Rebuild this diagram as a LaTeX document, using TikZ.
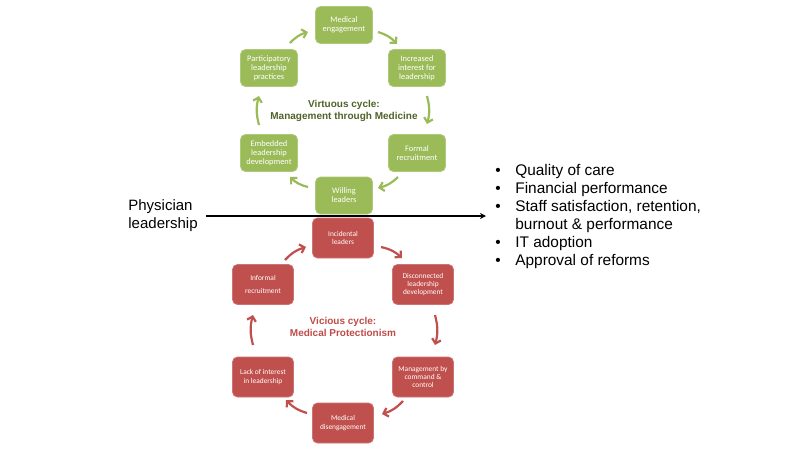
\documentclass[tikz,border=0pt]{standalone}
\usepackage{fontspec}
\setmainfont{Liberation Sans}
\newfontfamily\carlitofont{Carlito}
\usetikzlibrary{arrows.meta}
\definecolor{gfill}{HTML}{9BBB59}
\definecolor{rfill}{HTML}{C0504D}
\definecolor{gtitle}{HTML}{4F6228}
\definecolor{rtitle}{HTML}{BE4B48}
\tikzset{
  gbox/.style={rectangle, rounded corners=2.5pt, fill=gfill, draw=gfill!80!white, line width=0.4pt,
    minimum width=28.5pt, minimum height=18.5pt, inner sep=0.5pt, text=white, align=center,
    font=\carlitofont\fontsize{4.2}{4.5}\selectfont},
  rbox/.style={rectangle, rounded corners=2.5pt, fill=rfill, draw=rfill!80!white, line width=0.4pt,
    minimum width=30.5pt, minimum height=20pt, inner sep=0.5pt, text=white, align=center,
    font=\carlitofont\fontsize{3.7}{4.2}\selectfont},
  garr/.style={draw=gfill, line width=1.1pt, -{Straight Barb[length=2.2pt,width=4.5pt]}, bend left=15},
  rarr/.style={draw=rfill, line width=1.1pt, -{Straight Barb[length=2.2pt,width=4.5pt]}, bend left=15},
  title/.style={font=\bfseries\fontsize{5}{6}\selectfont, align=center},
}
\begin{document}
\begin{tikzpicture}[x=0.5pt, y=-0.5pt]
\useasboundingbox (0,0) rectangle (800,450);
% virtuous cycle
\node[gbox] (GM) at (344,25) {Medical\\engagement};
\node[gbox] (GI) at (417,68) {Increased\\interest for\\leadership};
\node[gbox] (GP) at (269,68) {Participatory\\leadership\\practices};
\node[gbox] (GE) at (269,153) {Embedded\\leadership\\development};
\node[gbox] (GF) at (417,153) {Formal\\recruitment};
\node[gbox] (GW) at (344,195.5) {Willing\\leaders};
\node[title, text=gtitle] (VT) at (344,111) {Virtuous cycle:\\Management through Medicine};
\draw[garr] ([shift={(21,-25)}]GP.center) to ([shift={(-36,7)}]GM.center);
\draw[garr] ([shift={(34,7)}]GM.center) to ([shift={(-20,-24)}]GI.center);
\draw[garr] ([shift={(10,28)}]GI.center) to ([shift={(10,-29)}]GF.center);
\draw[garr] ([shift={(-19,24)}]GF.center) to ([shift={(34,-7.5)}]GW.center);
\draw[garr] ([shift={(-36,-8.5)}]GW.center) to ([shift={(21,24)}]GE.center);
\draw[garr] ([shift={(-10,-28)}]GE.center) to ([shift={(-10,28)}]GP.center);
% vicious cycle
\node[rbox] (RI) at (343,238) {Incidental\\leaders};
\node[rbox] (RD) at (423,284.5) {Disconnected\\leadership\\development};
\node[rbox] (RF) at (263,284.5) {Informal\\[2pt]recruitment};
\node[rbox] (RL) at (263,377) {Lack of interest\\in leadership};
\node[rbox] (RM) at (423,377) {Management by\\command \&\\control};
\node[rbox] (RG) at (343,423) {Medical\\disengagement};
\node[title, text=rtitle] (CT) at (343,327) {Vicious cycle:\\Medical Protectionism};
\draw[rarr] ([shift={(22,-24.5)}]RF.center) to ([shift={(-37,9)}]RI.center);
\draw[rarr] ([shift={(38,9)}]RI.center) to ([shift={(-21,-26.5)}]RD.center);
\draw[rarr] ([shift={(12,30.5)}]RD.center) to ([shift={(12,-32)}]RM.center);
\draw[rarr] ([shift={(-20,24)}]RM.center) to ([shift={(39,-9)}]RG.center);
\draw[rarr] ([shift={(-36,-10)}]RG.center) to ([shift={(23,23)}]RL.center);
\draw[rarr] ([shift={(-10,-32)}]RL.center) to ([shift={(-10,30.5)}]RF.center);
% physician leadership and outcomes
\node[anchor=west, inner sep=0pt, align=left, font=\fontsize{7.5}{9}\selectfont] (PL) at (128,216) {Physician\\leadership};
\node[anchor=west, inner sep=0pt, align=left, font=\fontsize{7.7}{9}\selectfont] (BL) at (495,216.5)
  {\makebox[10pt][l]{•}Quality of care\\
   \makebox[10pt][l]{•}Financial performance\\
   \makebox[10pt][l]{•}Staff satisfaction, retention,\\
   \hspace*{10pt}burnout \& performance\\
   \makebox[10pt][l]{•}IT adoption\\
   \makebox[10pt][l]{•}Approval of reforms};
\draw[line width=0.75pt, -{Stealth[length=3pt,width=3pt]}, shorten <=4pt, shorten >=4.5pt] (PL.east |- 0,216) -- (BL.west |- 0,216);
\end{tikzpicture}
\end{document}
